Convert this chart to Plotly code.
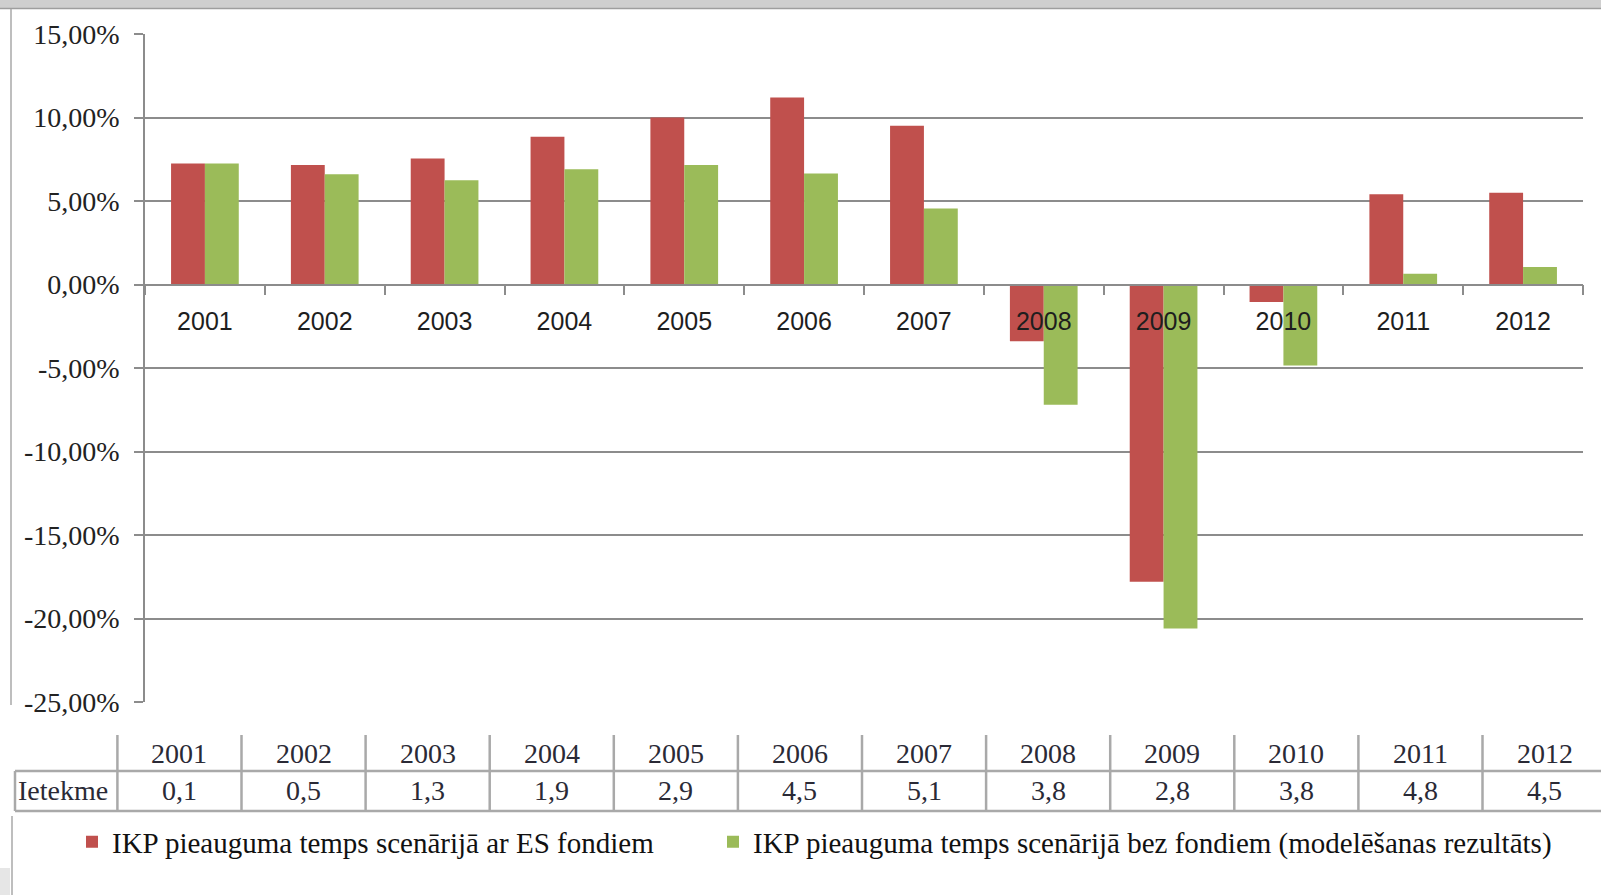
import plotly.graph_objects as go

# ---------------- data ----------------
years = ["2001", "2002", "2003", "2004", "2005", "2006",
         "2007", "2008", "2009", "2010", "2011", "2012"]
with_funds = [7.25, 7.15, 7.55, 8.85, 10.0, 11.2, 9.5, -3.4, -17.8, -1.05, 5.4, 5.5]
without_funds = [7.25, 6.6, 6.25, 6.9, 7.15, 6.65, 4.55, -7.2, -20.6, -4.85, 0.65, 1.05]
impact = ["0,1", "0,5", "1,3", "1,9", "2,9", "4,5", "5,1", "3,8", "2,8", "3,8", "4,8", "4,5"]
impact_label = "Ietekme"
name_with = "IKP pieauguma temps scenārijā ar ES fondiem"
name_without = "IKP pieauguma temps scenārijā bez fondiem (modelēšanas rezultāts)"
ytick_vals = [15, 10, 5, 0, -5, -10, -15, -20, -25]
ytick_text = ["15,00%", "10,00%", "5,00%", "0,00%", "-5,00%",
              "-10,00%", "-15,00%", "-20,00%", "-25,00%"]
y_min, y_max = -25, 15

# ---------------- geometry ----------------
W, H = 1601, 895
L, R, T, B = 145, 1583, 34, 702
pw, ph = R - L, B - T


def px(xp):
    return (xp - L) / pw


def py(yp):
    return (B - yp) / ph


RED = "#C0504D"
GREEN = "#9BBB59"
GRID = "#8c8c8c"

fig = go.Figure()
fig.add_bar(x=years, y=with_funds, name=name_with, legend="legend",
            marker=dict(color=RED, line=dict(width=0)))
fig.add_bar(x=years, y=without_funds, name=name_without, legend="legend2",
            marker=dict(color=GREEN, line=dict(width=0)))

shapes = []
annotations = []

# frame decorations (screenshot borders)
shapes.append(dict(type="rect", xref="paper", yref="paper", x0=px(0), x1=px(W), y0=py(0), y1=py(8),
                   fillcolor="#cfcfcf", line=dict(width=0), layer="below"))
shapes.append(dict(type="line", xref="paper", yref="paper", x0=px(0), x1=px(W), y0=py(8.5), y1=py(8.5),
                   line=dict(color="#9e9e9e", width=1.5)))
shapes.append(dict(type="line", xref="paper", yref="paper", x0=px(11), x1=px(11), y0=py(9), y1=py(705),
                   line=dict(color="#a8a8a8", width=1.5)))
shapes.append(dict(type="line", xref="paper", yref="paper", x0=px(12), x1=px(12), y0=py(816), y1=py(H),
                   line=dict(color="#a8a8a8", width=1.5)))
shapes.append(dict(type="rect", xref="paper", yref="paper", x0=px(0), x1=px(10), y0=py(868), y1=py(895),
                   fillcolor="#e6e6e6", line=dict(width=0)))

# data table below the chart
TLINE = "#a9a9a9"
col0_left, col0_right, colw = 15, 117.4, 124.1
hdr_top, mid, bot = 735, 771, 811
TFONT = dict(family="Liberation Serif", size=28, color="#2a2a36")
shapes.append(dict(type="line", xref="paper", yref="paper", x0=px(col0_left), x1=px(W), y0=py(mid), y1=py(mid),
                   line=dict(color=TLINE, width=2.5)))
shapes.append(dict(type="line", xref="paper", yref="paper", x0=px(col0_left), x1=px(W), y0=py(bot), y1=py(bot),
                   line=dict(color=TLINE, width=2.5)))
shapes.append(dict(type="line", xref="paper", yref="paper", x0=px(col0_left), x1=px(col0_left), y0=py(mid), y1=py(bot),
                   line=dict(color=TLINE, width=2.5)))
for i in range(len(years)):
    xl = col0_right + i * colw
    shapes.append(dict(type="line", xref="paper", yref="paper", x0=px(xl), x1=px(xl), y0=py(hdr_top), y1=py(bot),
                       line=dict(color=TLINE, width=2.5)))
    xc = xl + colw / 2
    annotations.append(dict(xref="paper", yref="paper", x=px(xc), y=py(753), text=years[i], showarrow=False,
                            xanchor="center", yanchor="middle", font=TFONT))
    annotations.append(dict(xref="paper", yref="paper", x=px(xc), y=py(791), text=impact[i], showarrow=False,
                            xanchor="center", yanchor="middle", font=TFONT))
annotations.append(dict(xref="paper", yref="paper", x=px(16), y=py(791), text=impact_label, showarrow=False,
                        xanchor="left", yanchor="middle", font=TFONT))

LEGFONT = dict(family="Liberation Serif", size=29, color="#111111")
fig.update_layout(
    width=W, height=H,
    margin=dict(l=L, r=W - R, t=T, b=H - B, autoexpand=False),
    paper_bgcolor="white", plot_bgcolor="white",
    barmode="group", bargap=0.435, bargroupgap=0,
    showlegend=True,
    legend=dict(orientation="h", x=px(72), xanchor="left", y=py(842), yanchor="middle",
                font=LEGFONT, bgcolor="rgba(0,0,0,0)"),
    legend2=dict(orientation="h", x=px(713), xanchor="left", y=py(842), yanchor="middle",
                 font=LEGFONT, bgcolor="rgba(0,0,0,0)"),
    xaxis=dict(type="category", anchor="free", position=(0 - y_min) / (y_max - y_min),
               showline=True, linecolor=GRID, linewidth=1.5,
               ticks="outside", tickson="boundaries", ticklen=10, tickcolor=GRID, tickwidth=1.5,
               showgrid=False, ticklabelstandoff=15,
               tickfont=dict(family="Liberation Sans", size=25, color="#1e1e1e")),
    yaxis=dict(range=[y_min, y_max], tickvals=ytick_vals, ticktext=ytick_text,
               showline=True, linecolor=GRID, linewidth=1.5,
               ticks="outside", ticklen=9, tickcolor=GRID, tickwidth=1.5,
               showgrid=True, gridcolor=GRID, gridwidth=1.5, zeroline=False,
               ticklabelstandoff=9,
               tickfont=dict(family="Liberation Serif", size=28, color="#222222")),
    shapes=shapes,
    annotations=annotations,
)

fig.write_html("out.html", config={"displayModeBar": False},
               post_script="document.body.style.margin='0';")
